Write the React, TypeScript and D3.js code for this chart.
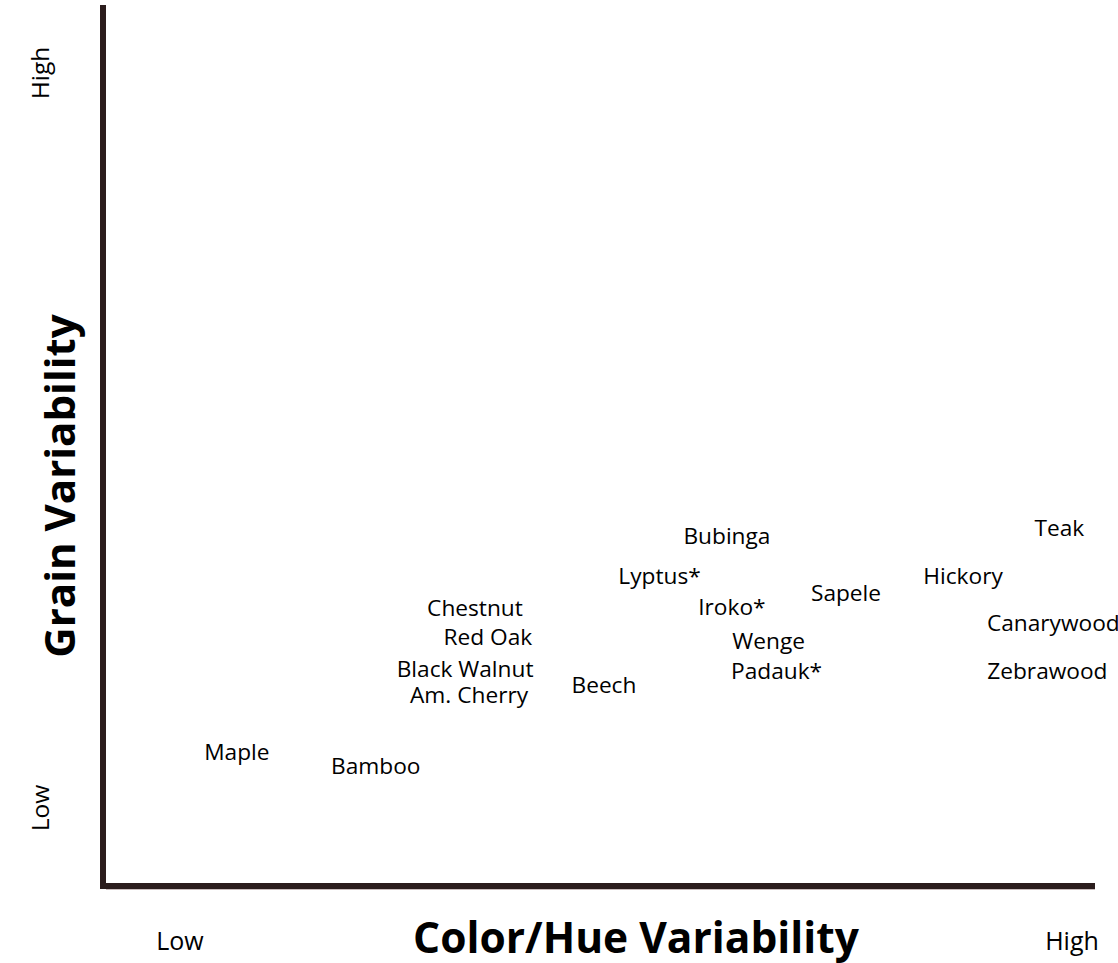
import React from "react";
import * as d3 from "d3";

const woods = ["Teak", "Bubinga", "Lyptus*", "Hickory", "Sapele", "Iroko*", "Chestnut", "Canarywood", "Red Oak", "Wenge", "Black Walnut", "Padauk*", "Zebrawood", "Beech", "Am. Cherry", "Maple", "Bamboo"];
const colorVariability = [96.4, 62.9, 56.1, 86.7, 74.9, 63.4, 37.5, 95.8, 38.8, 67.1, 36.5, 67.9, 95.2, 50.5, 36.9, 13.5, 27.5];
const grainVariability = [40.6, 39.7, 35.2, 35.2, 33.3, 31.7, 31.6, 29.9, 28.3, 27.8, 24.6, 24.4, 24.4, 22.8, 21.7, 15.2, 13.6];

const xTitle = "Color/Hue Variability";
const yTitle = "Grain Variability";
const lowLabel = "Low";
const highLabel = "High";

const W = 1118;
const H = 963;
const FONT = "'Open Sans', sans-serif";
const AXIS = "#2b1d1d";

export default function App() {
  const x = d3.scaleLinear().domain([0, 100]).range([103, 1095]);
  const y = d3.scaleLinear().domain([0, 100]).range([886, 5]);
  const x0 = x(0), x1 = x(100), y0 = y(0), y1 = y(100);
  return (
    <svg width={W} height={H} style={{ position: "absolute", left: 0, top: 0, background: "#fff", overflow: "hidden" }} fontFamily={FONT}>
      <line x1={x0} x2={x0} y1={y1} y2={y0 + 3} stroke={AXIS} strokeWidth={6} />
      <line x1={x0 - 3} x2={x1} y1={y0} y2={y0} stroke={AXIS} strokeWidth={6} />
      <line x1={x0 + 3} x2={x1} y1={y0 + 3.5} y2={y0 + 3.5} stroke="#c9bcbc" strokeWidth={1} />
      {woods.map((w, i) => (
        <text key={w} x={x(colorVariability[i])} y={y(grainVariability[i])} dy="0.36em" textAnchor="middle" fontSize={22.7} fill="#000">
          {w}
        </text>
      ))}
      <text x={636} y={953} textAnchor="middle" fontSize={42.5} fontWeight="bold" fill="#000">{xTitle}</text>
      <text transform={`translate(75,486) rotate(-90)`} textAnchor="middle" fontSize={42} fontWeight="bold" fill="#000">{yTitle}</text>
      <text x={180} y={950} textAnchor="middle" fontSize={25} fill="#000">{lowLabel}</text>
      <text x={1072} y={950} textAnchor="middle" fontSize={25} fill="#000">{highLabel}</text>
      <text transform={`translate(49,73) rotate(-90)`} textAnchor="middle" fontSize={24.5} fill="#000">{highLabel}</text>
      <text transform={`translate(49,808) rotate(-90)`} textAnchor="middle" fontSize={24.5} fill="#000">{lowLabel}</text>
    </svg>
  );
}
